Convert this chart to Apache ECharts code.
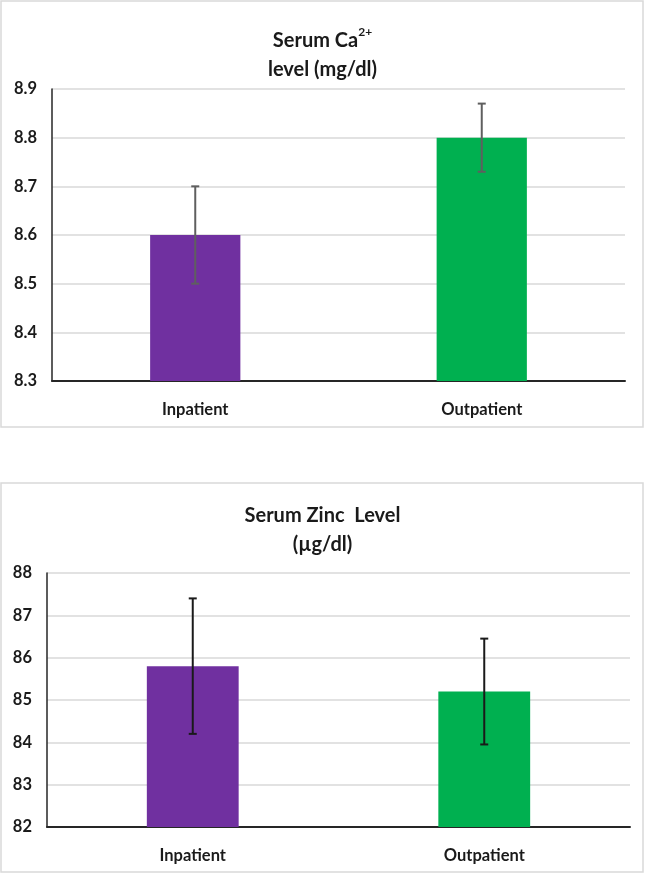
<!DOCTYPE html>
<html>
<head>
<meta charset="utf-8">
<script src="https://cdn.jsdelivr.net/npm/echarts@6/dist/echarts.min.js"></script>
<style>
html,body{margin:0;padding:0;background:#fff;}
#c{width:645px;height:874px;}
</style>
</head>
<body>
<div id="c"></div>
<script>
// Data
const categories = ['Inpatient', 'Outpatient'];
const caMeans = [8.6, 8.8];
const caErrors = [0.1, 0.07];
const caTicks = { min: 8.3, max: 8.9, interval: 0.1 };
const znMeans = [85.8, 85.2];
const znErrors = [1.6, 1.25];
const znTicks = { min: 82, max: 88, interval: 1 };
const barColors = ['#7030A0', '#00B050'];

const FONT = 'Lato, "Open Sans", sans-serif';
const chart = echarts.init(document.getElementById('c'), null, { renderer: 'canvas' });

function errRender(color) {
  return function (params, api) {
    const x = api.value(0), lo = api.value(1), hi = api.value(2);
    const pLo = api.coord([x, lo]);
    const pHi = api.coord([x, hi]);
    const cap = 4;
    const style = { stroke: color, lineWidth: 2 };
    return {
      type: 'group',
      children: [
        { type: 'line', shape: { x1: pLo[0], y1: pLo[1], x2: pHi[0], y2: pHi[1] }, style },
        { type: 'line', shape: { x1: pHi[0] - cap, y1: pHi[1], x2: pHi[0] + cap, y2: pHi[1] }, style },
        { type: 'line', shape: { x1: pLo[0] - cap, y1: pLo[1], x2: pLo[0] + cap, y2: pLo[1] }, style }
      ]
    };
  };
}

const titleRich = {
  a: { fontSize: 20, fontWeight: 'bold', color: '#1a1a1a', fontFamily: FONT, lineHeight: 29 },
  sup: { fontSize: 12, fontWeight: 'bold', color: '#1a1a1a', fontFamily: FONT, verticalAlign: 'top', lineHeight: 26 }
};

function yAxisCfg(ticks, gridIndex, fmt) {
  return {
    type: 'value', gridIndex, min: ticks.min, max: ticks.max, interval: ticks.interval,
    axisLine: { show: true, lineStyle: { color: '#262626', width: 1.5 } },
    axisTick: { show: false },
    splitLine: { show: true, lineStyle: { color: '#d9d9d9', width: 1.5 } },
    axisLabel: { fontSize: 16.5, fontWeight: 'bold', color: '#1a1a1a', fontFamily: FONT, margin: 15, formatter: fmt }
  };
}
function xAxisCfg(gridIndex) {
  return {
    type: 'category', gridIndex, data: categories,
    axisLine: { show: true, lineStyle: { color: '#262626', width: 2 } },
    axisTick: { show: false },
    axisLabel: { fontSize: 16.5, fontWeight: 'bold', color: '#1a1a1a', fontFamily: FONT, margin: 20 }
  };
}

chart.setOption({
  animation: false,
  backgroundColor: '#ffffff',
  graphic: [
    { type: 'rect', shape: { x: 1, y: 1, width: 642, height: 426 }, style: { fill: 'none', stroke: '#d9d9d9', lineWidth: 1.5 }, z: -1 },
    { type: 'rect', shape: { x: 1, y: 483, width: 642, height: 389 }, style: { fill: 'none', stroke: '#d9d9d9', lineWidth: 1.5 }, z: -1 }
  ],
  title: [
    { text: '{a|Serum Ca}{sup|2+}\n{a|level (mg/dl)}', left: 'center', top: 21, textStyle: { rich: titleRich } },
    { text: '{a|Serum Zinc  Level}\n{a|(µg/dl)}', left: 'center', top: 496, textStyle: { rich: titleRich } }
  ],
  grid: [
    { left: 52, right: 20, top: 89, height: 292 },
    { left: 47, right: 15, top: 573, height: 254 }
  ],
  xAxis: [xAxisCfg(0), xAxisCfg(1)],
  yAxis: [
    yAxisCfg(caTicks, 0, v => v.toFixed(1)),
    yAxisCfg(znTicks, 1, v => String(Math.round(v)))
  ],
  series: [
    {
      type: 'bar', xAxisIndex: 0, yAxisIndex: 0, barWidth: '31.5%',
      data: caMeans.map((v, i) => ({ value: v, itemStyle: { color: barColors[i] } }))
    },
    {
      type: 'custom', xAxisIndex: 0, yAxisIndex: 0, z: 10,
      renderItem: errRender('#5f5f5f'),
      data: caMeans.map((v, i) => [i, v - caErrors[i], v + caErrors[i]])
    },
    {
      type: 'bar', xAxisIndex: 1, yAxisIndex: 1, barWidth: '31.5%',
      data: znMeans.map((v, i) => ({ value: v, itemStyle: { color: barColors[i] } }))
    },
    {
      type: 'custom', xAxisIndex: 1, yAxisIndex: 1, z: 10,
      renderItem: errRender('#1a1a1a'),
      data: znMeans.map((v, i) => [i, v - znErrors[i], v + znErrors[i]])
    }
  ]
});
</script>
</body>
</html>
